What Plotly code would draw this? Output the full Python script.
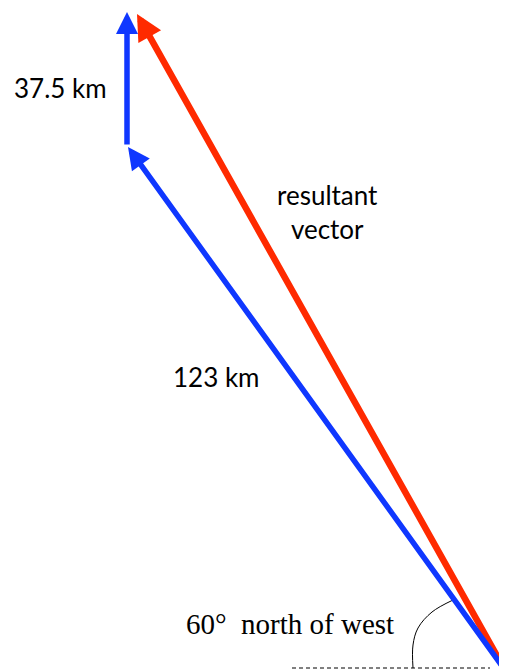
import plotly.graph_objects as go

# Drawing coordinates (pixel-like units, y downward)
origin = [505, 670]
blue1_tip = [128, 147]
blue2_tail = [127, 146]
blue2_tip = [127, 12]
red_tip = [137, 14]

labels = ["37.5 km", "123 km", "resultant<br>vector"]
label_x = [60, 216, 327]
label_y = [88, 377, 212]

angle_label = "60°&nbsp;&nbsp;north of west"
angle_label_x = 290
angle_label_y = 624

arc_x = [453, 432, 418, 413, 413]
arc_y = [600, 612, 628, 645, 668]
dash_x = [292, 490]
dash_y = [668, 668]

BLUE = "#0f37ff"
RED = "#ff2a00"

# the page body has an 8px margin; offset the data window accordingly
OFF = 8
W, H = 507, 672

fig = go.Figure()

fig.add_trace(go.Scatter(x=dash_x, y=dash_y, mode="lines",
                         line=dict(color="black", width=1, dash="4px,3px"),
                         hoverinfo="skip", showlegend=False))
fig.add_trace(go.Scatter(x=arc_x, y=arc_y, mode="lines",
                         line=dict(color="black", width=1, shape="spline"),
                         hoverinfo="skip", showlegend=False))

def arrow(tail, tip, color, width):
    fig.add_annotation(x=tip[0], y=tip[1], ax=tail[0], ay=tail[1],
                       xref="x", yref="y", axref="x", ayref="y",
                       text="", showarrow=True, arrowhead=2, arrowsize=0.8,
                       arrowwidth=width, arrowcolor=color, standoff=0, startstandoff=0)

arrow(origin, red_tip, RED, 6.5)
arrow(origin, blue1_tip, BLUE, 5.5)
arrow(blue2_tail, blue2_tip, BLUE, 5.5)

sans = "Lato, 'Open Sans', sans-serif"
for i in range(len(labels)):
    fig.add_annotation(x=label_x[i], y=label_y[i], text=labels[i], showarrow=False,
                       xref="x", yref="y",
                       font=dict(family=sans, size=26, color="black"))
fig.add_annotation(x=angle_label_x, y=angle_label_y, text=angle_label, showarrow=False,
                   xref="x", yref="y",
                   font=dict(family="'Liberation Serif', 'Times New Roman', serif", size=29, color="black"))

fig.update_layout(width=W - OFF, height=H - OFF, margin=dict(l=0, r=0, t=0, b=0),
                  paper_bgcolor="white", plot_bgcolor="white",
                  xaxis=dict(range=[OFF, W], visible=False, fixedrange=True),
                  yaxis=dict(range=[H, OFF], visible=False, fixedrange=True),
                  showlegend=False)

fig.write_html("out.html")
